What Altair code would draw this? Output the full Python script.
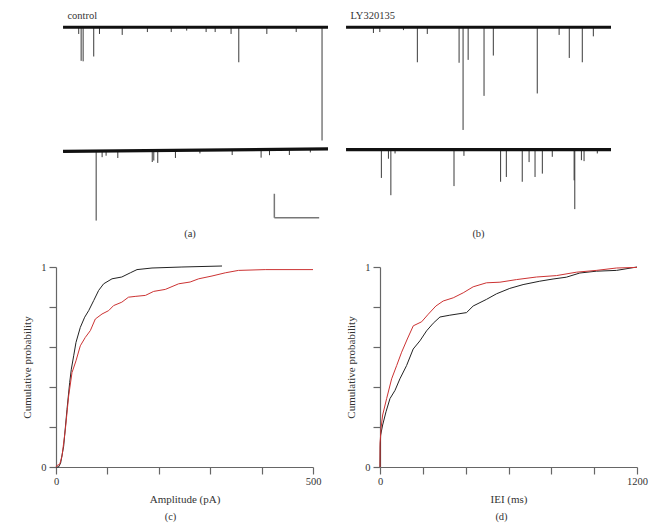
import altair as alt
import pandas as pd
import numpy as np

FONT = "Liberation Serif"
TXT = "#333333"
AX = "#666666"

# ---------------- (a)/(b) current traces ----------------
TRACE_LEN = 12.0          # s
TRACE_GAP = 255.0         # pA offset between the two sweeps
# baseline (pA) at trace start / end for sweep 1 and 2
a_baseline = [[0, 0], [-3.5, 1.5]]
b_baseline = [[0, 0], [0, 0]]

# control sweep 1: event times (s) and amplitudes (pA)
a1_t = [0.71, 0.82, 0.91, 1.39, 1.65, 2.68, 3.82, 4.9, 5.6, 6.48, 6.89, 7.61, 7.96, 9.23, 10.56, 11.73]
a1_amp = [14, 70, 71, 61, 14, 16, 10, 10, 7, 10, 10, 14, 73, 14, 10, 236]
# control sweep 2
a2_t = [1.5, 1.77, 1.95, 2.48, 4.04, 4.11, 4.29, 5.09, 6.2, 7.66, 8.97, 9.35, 10.25, 11.2]
a2_amp = [145, 13, 10, 15, 24, 21, 26, 16, 7, 11, 17, 12, 12, 7]
# LY320135 sweep 1
b1_t = [1.24, 1.53, 2.6, 3.23, 3.68, 5.12, 5.3, 5.53, 6.25, 6.67, 8.66, 9.65, 10.11, 10.7, 11.2]
b1_amp = [12, 10, 6, 73, 14, 74, 214, 68, 143, 59, 138, 16, 64, 73, 19]
# LY320135 sweep 2
b2_t = [1.6, 1.92, 2.03, 2.22, 4.89, 5.34, 7.0, 7.26, 7.98, 8.29, 8.56, 8.89, 9.34, 10.33, 10.36, 10.66, 10.78, 11.38]
b2_amp = [59, 19, 95, 8, 76, 13, 67, 57, 67, 26, 57, 50, 15, 64, 124, 22, 24, 8]

# scale bar: 2 s, 50 pA
bar_t = [9.57, 11.6]
bar_pA = [-397, -347]

PX_PER_S = 22.08


def sweep_frames(sweeps, baselines):
    base_rows, spike_rows = [], []
    for i, ((ts, amps), (b0, b1)) in enumerate(zip(sweeps, baselines)):
        off = -TRACE_GAP * i
        base_rows += [{"trace": i, "t": 0.0, "y": off + b0},
                      {"trace": i, "t": TRACE_LEN, "y": off + b1}]
        for t, a in zip(ts, amps):
            yb = off + np.interp(t, [0, TRACE_LEN], [b0, b1])
            spike_rows.append({"trace": i, "t": t, "base": yb, "peak": yb - a})
    return pd.DataFrame(base_rows), pd.DataFrame(spike_rows)


def trace_panel(sweeps, baselines, name, bottom_label, width, label_dx, bar=False):
    base_df, spike_df = sweep_frames(sweeps, baselines)
    t0 = TRACE_LEN - width / PX_PER_S
    xs = alt.Scale(domain=[t0, TRACE_LEN], nice=False, zero=False)
    ys = alt.Scale(domain=[-410, 13], nice=False, zero=False)
    spikes = alt.Chart(spike_df).mark_rule(strokeWidth=1, color="#3a3a3a").encode(
        x=alt.X("t:Q", scale=xs, axis=None),
        y=alt.Y("base:Q", scale=ys, axis=None),
        y2="peak:Q")
    base = alt.Chart(base_df).mark_line(strokeWidth=3.2, color="#111111").encode(
        x=alt.X("t:Q", scale=xs, axis=None),
        y=alt.Y("y:Q", scale=ys, axis=None),
        detail="trace:N")
    lab = alt.Chart(pd.DataFrame({"t": [0.2], "y": [17], "txt": [name]})).mark_text(
        align="left", baseline="alphabetic", font=FONT, fontSize=10.5, color=TXT).encode(
        x=alt.X("t:Q", scale=xs, axis=None), y=alt.Y("y:Q", scale=ys, axis=None), text="txt:N")
    layers = [spikes, base, lab]
    if bar:
        bdf = pd.DataFrame({"t0": [bar_t[0], bar_t[0]], "t1": [bar_t[0], bar_t[1]],
                            "y0": [bar_pA[0], bar_pA[0]], "y1": [bar_pA[1], bar_pA[0]]})
        layers.append(alt.Chart(bdf).mark_rule(strokeWidth=1.5, color="#777777").encode(
            x=alt.X("t0:Q", scale=xs, axis=None), x2="t1:Q",
            y=alt.Y("y0:Q", scale=ys, axis=None), y2="y1:Q"))
    return alt.layer(*layers).properties(
        width=width, height=203,
        title=alt.TitleParams(bottom_label, anchor="middle", orient="bottom", dx=label_dx, offset=5,
                              font=FONT, fontSize=10.5, fontWeight="normal", color=TXT))


panel_a = trace_panel([(a1_t, a1_amp), (a2_t, a2_amp)], a_baseline, "control", "(a)", 272, -2, bar=True)
panel_b = trace_panel([(b1_t, b1_amp), (b2_t, b2_amp)], b_baseline, "LY320135", "(b)", 265, 0)

# ---------------- (c)/(d) cumulative distributions ----------------
amp_ctrl_x = [0, 5, 9, 14.9, 21.4, 26.6, 29.8, 34.4, 38.9, 47.3, 55.8, 63.6, 73.3, 83, 92.7,
              109, 128, 144.6, 157.6, 186.8, 245, 323]
amp_ctrl_p = [0, 0, 0.02, 0.104, 0.288, 0.422, 0.489, 0.556, 0.623, 0.698, 0.749, 0.782, 0.832,
              0.883, 0.916, 0.941, 0.95, 0.971, 0.987, 0.995, 1.0, 1.005]
amp_ly_x = [0, 3, 7, 11.7, 18.2, 24.6, 31.1, 38.9, 47.3, 57, 66.8, 76.5, 89.5, 102.5, 112, 128,
            141, 154, 174, 190, 212.7, 238.6, 261, 277.6, 303.5, 329.4, 355, 407, 500]
amp_ly_p = [0, 0.01, 0.012, 0.054, 0.188, 0.355, 0.472, 0.531, 0.606, 0.648, 0.682, 0.74, 0.765,
            0.782, 0.807, 0.824, 0.849, 0.853, 0.858, 0.878, 0.888, 0.916, 0.925, 0.941, 0.955,
            0.971, 0.983, 0.987, 0.987]

iei_ctrl_x = [0, 1, 3, 12.4, 28, 46.6, 70, 93, 124, 155, 186.5, 217.6, 248.7, 280, 326, 404, 435,
              497, 544, 606, 668, 746, 808, 870, 933, 1010, 1104, 1200]
iei_ctrl_p = [0, 0.1, 0.16, 0.21, 0.276, 0.342, 0.383, 0.441, 0.507, 0.59, 0.631, 0.681, 0.719,
              0.75, 0.759, 0.772, 0.805, 0.838, 0.866, 0.893, 0.912, 0.929, 0.94, 0.949, 0.97,
              0.979, 0.983, 1.0]
iei_ly_x = [0, 0.5, 4.7, 12.4, 31, 54.4, 77.7, 101, 127.5, 155.4, 194.3, 225.4, 261, 295, 342,
            388.6, 435, 497, 560, 637, 730.6, 824, 917, 1010, 1104, 1200]
iei_ly_p = [0, 0.12, 0.193, 0.26, 0.342, 0.441, 0.507, 0.574, 0.64, 0.706, 0.726, 0.764, 0.805,
            0.83, 0.846, 0.871, 0.901, 0.921, 0.924, 0.937, 0.95, 0.957, 0.974, 0.983, 0.995, 0.998]

groups = ["control", "LY320135"]
colors = ["#222222", "#cc3333"]


def cdf_panel(cx, cp, lx, lp, xmax, step, xtitle, label, label_dx):
    df = pd.concat([
        pd.DataFrame({"x": cx, "p": cp, "g": "control", "i": range(len(cx))}),
        pd.DataFrame({"x": lx, "p": lp, "g": "LY320135", "i": range(len(lx))}),
    ])
    ticks = list(range(0, xmax + 1, step))
    chart = alt.Chart(df).mark_line(strokeWidth=1, clip=False).encode(
        x=alt.X("x:Q", scale=alt.Scale(domain=[0, xmax], nice=False),
                axis=alt.Axis(values=ticks, title=xtitle, format="d",
                              labelExpr=f"datum.value == 0 || datum.value == {xmax} ? datum.label : ''")),
        y=alt.Y("p:Q", scale=alt.Scale(domain=[0, 1], nice=False),
                axis=alt.Axis(values=[0, 0.2, 0.4, 0.6, 0.8, 1], title="Cumulative probability",
                              labelExpr="datum.value == 0 ? '0' : datum.value == 1 ? '1' : ''")),
        color=alt.Color("g:N", scale=alt.Scale(domain=groups, range=colors), legend=None),
        order="i:Q",
    ).properties(
        width=257, height=200,
        title=alt.TitleParams(label, orient="bottom", anchor="middle", dx=label_dx, offset=7,
                              font=FONT, fontSize=10.5, fontWeight="normal", color=TXT))
    return chart


panel_c = cdf_panel(amp_ctrl_x, amp_ctrl_p, amp_ly_x, amp_ly_p, 500, 100, "Amplitude (pA)", "(c)", -14)
panel_d = cdf_panel(iei_ctrl_x, iei_ctrl_p, iei_ly_x, iei_ly_p, 1200, 200, "IEI (ms)", "(d)", -7)

top = alt.hconcat(panel_a, panel_b, spacing=18, bounds="flush")
bottom = alt.hconcat(panel_c, panel_d, spacing=67, bounds="flush")

chart = alt.vconcat(top, bottom, spacing=22).properties(
    padding={"left": 13, "top": 3, "right": 5, "bottom": 5}
).configure_view(stroke=None).configure_axis(
    grid=False, domainColor=AX, tickColor=AX, tickSize=7, domainWidth=1.2, tickWidth=1.2,
    labelFont=FONT, labelFontSize=10.5, labelColor=TXT, labelPadding=2,
    titleFont=FONT, titleFontSize=11, titleFontWeight="normal", titleColor=TXT,
    labelFlush=False, labelOverlap=False
).configure_axisX(titlePadding=7).configure_axisY(labelPadding=3, titlePadding=8)

chart.save("out.html", embed_options={"renderer": "svg", "actions": False})
